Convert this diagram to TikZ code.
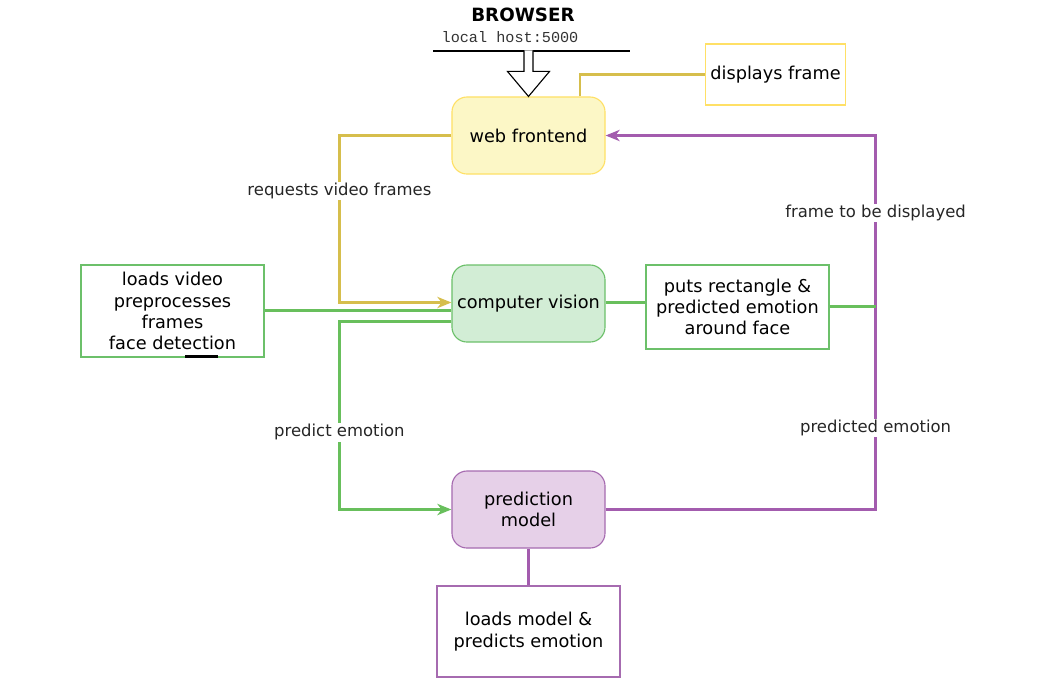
\documentclass[tikz,border=0pt]{standalone}
\usepackage{fontspec}
\setmainfont{DejaVu Sans}
\newfontfamily\hostfont{Liberation Mono}
\usepackage{xcolor}
\usetikzlibrary{positioning,calc,arrows.meta}

\definecolor{yelFill}{HTML}{FCF7C6}
\definecolor{yelLine}{HTML}{FFE066}
\definecolor{yelEdge}{HTML}{D6BE4C}
\definecolor{grnFill}{HTML}{D2EDD5}
\definecolor{grnLine}{HTML}{6CC06A}
\definecolor{grnEdge}{HTML}{68BF5C}
\definecolor{purFill}{HTML}{E6D0E8}
\definecolor{purLine}{HTML}{A66BB0}
\definecolor{purEdge}{HTML}{A35CAE}

\tikzset{
    module/.style={draw, line width=0.8pt, rounded corners=0.375cm, minimum width=3.825cm, minimum height=1.925cm, align=center, font=\fontsize{12.6}{15.1}\selectfont},
    note/.style={draw, line width=1pt, fill=white, align=center, font=\fontsize{12.6}{15.1}\selectfont},
    elabel/.style={fill=white, inner sep=1pt, text=black!85, font=\fontsize{11.7}{14}\selectfont},
    edge/.style={line width=2pt},
    tip/.style={-{Stealth[length=10pt,width=8pt,inset=3pt]}}
}

\begin{document}
\begin{tikzpicture}[x=0.025cm, y=-0.025cm]
        \useasboundingbox (0,0) rectangle (1056,680);

        % Browser
        \node[font=\fontsize{13}{15}\selectfont\bfseries] (browser) at (523,15) {BROWSER};
        \node[font=\fontsize{10.8}{13}\selectfont\hostfont, text=black!80] (host) at (510,37) {local host:5000};
        \coordinate (barL) at (433,51);
        \coordinate (barR) at (630,51);
        \draw[line width=1.5pt] (barL) -- (barR);

        % Modules
        \node[module, fill=yelFill, draw=yelLine] (web) at (528.5,135.5) {web frontend};
        \node[module, fill=grnFill, draw=grnLine] (cv) at (528.5,303.5) {computer vision};
        \node[module, fill=purFill, draw=purLine] (model) at (528.5,509.5) {prediction\\model};

        % Notes
        \node[note, draw=yelLine, minimum width=3.425cm, minimum height=1.525cm] (display) at (775.5,74.5) {displays frame};
        \node[note, draw=grnLine, minimum width=4.575cm, minimum height=2.3cm] (load) at (172.5,311) {loads video\\preprocesses\\frames\\face detection};
        \node[note, draw=grnLine, minimum width=4.575cm, minimum height=2.1cm] (mark) at (737.5,307) {puts rectangle \&\\predicted emotion\\around face};
        \node[note, draw=purLine, minimum width=4.575cm, minimum height=2.275cm] (predbox) at (528.5,631.5) {loads model \&\\predicts emotion};
        \draw[line width=2.2pt] ($(load.south)+(12.5,-1.5)$) -- ++(33,0);

        % Hollow arrow into web frontend
        \draw[line width=0.8pt, fill=white] ($(web.north)+(-4.5,-46)$) -- ++(0,21) -- ++(-16.5,0) -- (web.north) -- ++(21,-25) -- ++(-16.5,0) -- ++(0,-21);

        % Yellow connectors
        \draw[edge, yelEdge] ($(web.north)+(51.5,0)$) |- (display.west);
        \draw[edge, yelEdge, tip] (web.west) -- ++(-112,0) coordinate (yl)
            -- ($(yl |- cv.west)+(0,-1)$) node[elabel, pos=0.333] (reqlbl) {requests video frames}
            -- ($(cv.west)+(0,-1)$);

        % Green connectors
        \draw[edge, grnEdge] ($(load.east)+(0,-0.5)$) -- ($(load.east -| cv.west)+(0,-0.5)$);
        \draw[edge, grnEdge, tip] ($(cv.west)+(0,18)$) -- ($(yl |- cv.west)+(0,18)$)
            -- (yl |- model.west) node[elabel, pos=0.59] (predlbl) {predict emotion}
            -- (model.west);
        \draw[edge, grnEdge] ($(cv.east)+(0,-1)$) -- ($(cv.east -| mark.west)+(0,-1)$);

        % Purple connectors
        \draw[edge, purEdge, tip] (model.east) -- ++(270,0) coordinate (pr)
            -- (pr |- web.east) node[elabel, pos=0.218] (emolbl) {predicted emotion}
                                node[elabel, pos=0.793] (framelbl) {frame to be displayed}
            -- (web.east);
        \draw[edge, grnEdge] ($(mark.east)+(0,-0.5)$) -- ($(mark.east -| pr)+(0,-0.5)$);
        \draw[edge, purEdge] (model.south) -- (predbox.north);
    \end{tikzpicture}
\end{document}
